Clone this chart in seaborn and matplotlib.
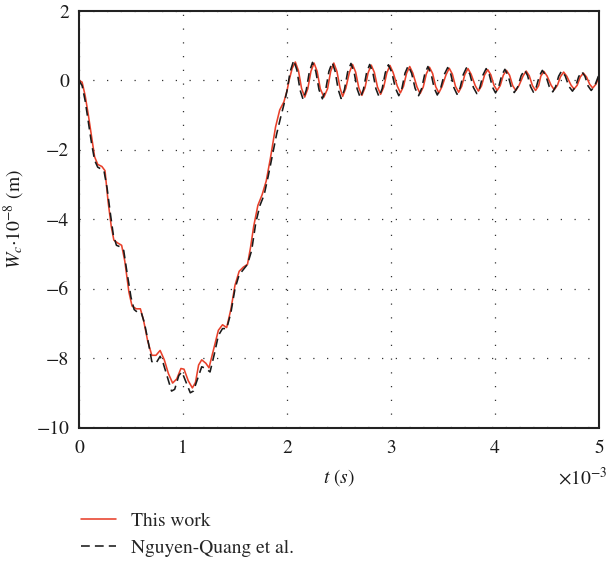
import numpy as np
import pandas as pd
import matplotlib
matplotlib.use("Agg")
import matplotlib.pyplot as plt
import seaborn as sns
from matplotlib.lines import Line2D

# ---------------- data (t in 1e-3 s, W_c in 1e-8 m) ----------------
t_this = [
    0.00, 0.03, 0.06, 0.09, 0.12, 0.15, 0.18, 0.22, 0.25, 0.28, 0.31, 0.335, 0.37, 0.41,
    0.44, 0.48, 0.51, 0.55, 0.59, 0.62, 0.66, 0.70, 0.74, 0.78, 0.82, 0.86, 0.90, 0.94,
    0.98, 1.01, 1.05, 1.09, 1.12, 1.15, 1.18, 1.22, 1.25, 1.29, 1.34, 1.38, 1.42, 1.46,
    1.50, 1.54, 1.58, 1.62, 1.65, 1.68, 1.72, 1.76, 1.80, 1.84, 1.89, 1.93, 1.97, 2.00,
    2.02, 2.05, 2.08,
    2.11, 2.14, 2.17, 2.20, 2.23, 2.26, 2.29, 2.32, 2.355, 2.39, 2.42, 2.45, 2.48, 2.51,
    2.535, 2.565, 2.60, 2.63, 2.66, 2.69, 2.72, 2.75, 2.78, 2.81, 2.84, 2.87, 2.90, 2.93,
    2.96, 2.99, 3.02, 3.06, 3.09, 3.12, 3.15, 3.18, 3.21, 3.25, 3.28, 3.31, 3.34, 3.37,
    3.40, 3.43, 3.46, 3.49, 3.53, 3.56, 3.59, 3.62, 3.65, 3.68, 3.71, 3.74, 3.77, 3.81,
    3.84, 3.87, 3.90, 3.93, 3.96, 3.99, 4.02, 4.05, 4.08, 4.11, 4.14, 4.17, 4.20, 4.23,
    4.27, 4.30, 4.33, 4.36, 4.39, 4.42, 4.44, 4.47, 4.50, 4.54, 4.57, 4.60, 4.63, 4.66,
    4.69, 4.73, 4.76, 4.79, 4.82, 4.85, 4.88, 4.91, 4.94, 4.97, 5.00,
]
w_this = [
    0.00, -0.05, -0.45, -1.00, -1.60, -2.20, -2.42, -2.48, -2.60, -3.50, -4.20, -4.60, -4.68, -4.75,
    -5.20, -6.10, -6.50, -6.58, -6.58, -6.90, -7.50, -7.92, -7.92, -7.78, -8.05, -8.45, -8.72, -8.60,
    -8.30, -8.32, -8.65, -8.86, -8.70, -8.20, -8.05, -8.15, -8.28, -7.80, -7.20, -7.04, -7.12, -6.60,
    -5.90, -5.50, -5.38, -5.30, -4.80, -4.20, -3.60, -3.30, -2.90, -2.25, -1.34, -0.85, -0.62, -0.30,
    0.00, 0.35, 0.53,
    0.28, -0.23, -0.48, -0.24, 0.26, 0.50, 0.26, -0.24, -0.48, -0.24, 0.26, 0.50, 0.26, -0.22,
    -0.46, -0.23, 0.23, 0.46, 0.24, -0.21, -0.43, -0.21, 0.22, 0.44, 0.23, -0.19, -0.40, -0.19,
    0.22, 0.43, 0.23, -0.16, -0.36, -0.17, 0.21, 0.40, 0.21, -0.19, -0.38, -0.19, 0.19, 0.38,
    0.20, -0.18, -0.36, -0.18, 0.17, 0.35, 0.18, -0.17, -0.34, -0.17, 0.17, 0.34, 0.18, -0.15,
    -0.31, -0.16, 0.16, 0.31, 0.16, -0.14, -0.29, -0.15, 0.15, 0.29, 0.15, -0.15, -0.29, -0.15,
    0.13, 0.27, 0.13, -0.15, -0.29, -0.15, 0.12, 0.26, 0.13, -0.14, -0.27, -0.14, 0.11, 0.24,
    0.12, -0.13, -0.25, -0.14, 0.10, 0.21, 0.10, -0.11, -0.22, -0.11, 0.10,
]

t_nq = [
    0.00, 0.03, 0.06, 0.09, 0.12, 0.15, 0.18, 0.21, 0.24, 0.27, 0.30, 0.33, 0.36, 0.40,
    0.43, 0.46, 0.50, 0.53, 0.57, 0.60, 0.63, 0.67, 0.70, 0.74, 0.78, 0.81, 0.85, 0.89,
    0.92, 0.96, 0.99, 1.03, 1.07, 1.10, 1.14, 1.18, 1.22, 1.26, 1.30, 1.34, 1.38, 1.42,
    1.46, 1.50, 1.54, 1.58, 1.62, 1.66, 1.70, 1.74, 1.78, 1.82, 1.86, 1.90, 1.94, 1.97,
    2.00, 2.03, 2.065,
    2.095, 2.125, 2.155, 2.185, 2.215, 2.245, 2.277, 2.308, 2.34, 2.372, 2.403, 2.435, 2.463, 2.492,
    2.52, 2.552, 2.583, 2.615, 2.645, 2.675, 2.705, 2.735, 2.765, 2.795, 2.825, 2.855, 2.885, 2.915,
    2.945, 2.975, 3.008, 3.042, 3.075, 3.105, 3.135, 3.165, 3.198, 3.232, 3.265, 3.295, 3.325, 3.355,
    3.385, 3.415, 3.445, 3.478, 3.512, 3.545, 3.575, 3.605, 3.635, 3.665, 3.695, 3.725, 3.758, 3.792,
    3.825, 3.855, 3.885, 3.915, 3.945, 3.975, 4.005, 4.035, 4.065, 4.095, 4.125, 4.155, 4.185, 4.218,
    4.252, 4.285, 4.313, 4.342, 4.37, 4.398, 4.427, 4.455, 4.488, 4.522, 4.555, 4.583, 4.612, 4.64,
    4.675, 4.71, 4.745, 4.775, 4.805, 4.835, 4.865, 4.895, 4.925, 4.96, 5.00,
]
w_nq = [
    0.00, -0.15, -0.60, -1.20, -1.80, -2.30, -2.50, -2.55, -2.60, -3.10, -3.80, -4.45, -4.75, -4.80,
    -4.90, -5.50, -6.25, -6.60, -6.70, -6.70, -7.00, -7.60, -8.10, -8.15, -7.95, -8.15, -8.55, -8.95,
    -8.90, -8.50, -8.40, -8.70, -9.00, -8.95, -8.60, -8.25, -8.30, -8.40, -7.90, -7.35, -7.15, -7.15,
    -6.70, -6.00, -5.60, -5.45, -5.30, -4.90, -4.10, -3.60, -3.30, -2.75, -2.15, -1.55, -1.05, -0.70,
    -0.30, 0.25, 0.58,
    0.30, -0.27, -0.55, -0.28, 0.25, 0.52, 0.26, -0.27, -0.53, -0.27, 0.26, 0.52, 0.26, -0.26,
    -0.52, -0.27, 0.24, 0.49, 0.24, -0.25, -0.50, -0.26, 0.22, 0.46, 0.23, -0.24, -0.47, -0.24,
    0.22, 0.45, 0.23, -0.22, -0.44, -0.23, 0.21, 0.42, 0.21, -0.23, -0.44, -0.23, 0.19, 0.40,
    0.20, -0.22, -0.42, -0.22, 0.17, 0.37, 0.18, -0.21, -0.40, -0.21, 0.17, 0.36, 0.18, -0.20,
    -0.38, -0.20, 0.16, 0.34, 0.17, -0.19, -0.36, -0.19, 0.15, 0.32, 0.15, -0.18, -0.35, -0.19,
    0.14, 0.30, 0.14, -0.18, -0.34, -0.18, 0.13, 0.29, 0.14, -0.18, -0.33, -0.18, 0.12, 0.27,
    0.13, -0.17, -0.31, -0.17, 0.11, 0.25, 0.12, -0.16, -0.29, -0.15, 0.17,
]

labels = ["This work", "Nguyen-Quang et al."]
x_ticks = [0, 1, 2, 3, 4, 5]
y_ticks = [-10, -8, -6, -4, -2, 0, 2]

df = pd.concat([
    pd.DataFrame({"t": t_this, "w": w_this, "series": labels[0]}),
    pd.DataFrame({"t": t_nq, "w": w_nq, "series": labels[1]}),
], ignore_index=True)

# ---------------- style ----------------
sns.set_theme(style="white")
plt.rcParams["font.family"] = ["STIXGeneral", "DejaVu Serif"]
plt.rcParams["mathtext.fontset"] = "stix"
plt.rcParams["axes.unicode_minus"] = True

fig = plt.figure(figsize=(6.07, 5.76), dpi=100)
ax = fig.add_axes([79 / 607, 1 - 427.5 / 576, (599 - 79) / 607, (427.5 - 11) / 576])

palette = {labels[0]: "#E8402A", labels[1]: "#1a1a1a"}
dash_nq = (5.5, 3.2)
dashes = {labels[0]: "", labels[1]: dash_nq}
sns.lineplot(data=df, x="t", y="w", hue="series", style="series",
             hue_order=labels, style_order=labels, palette=palette, dashes=dashes,
             sort=False, estimator=None, linewidth=1.15, ax=ax, legend=False)

ax.set_xlim(0, 5)
ax.set_ylim(-10, 2)
ax.set_xticks(x_ticks)
ax.set_yticks(y_ticks)
ax.set_xticklabels([str(v) for v in x_ticks])
ax.set_yticklabels([f"{v}".replace("-", "\u2212") for v in y_ticks])
ax.tick_params(axis="both", length=0, labelsize=14, colors="#1a1a1a")
ax.tick_params(axis="x", pad=9)
ax.tick_params(axis="y", pad=7)
ax.grid(True, color="#333333", linestyle=(0, (1, 10)), linewidth=0.9)
for s in ax.spines.values():
    s.set_visible(True)
    s.set_color("#222222")
    s.set_linewidth(1.5)

ax.set_xlabel(r"$t\ (s)$", fontsize=14, labelpad=7, color="#1a1a1a")
ax.set_ylabel(r"$W_c{\cdot}10^{-8}$ (m)", fontsize=14, labelpad=7, color="#1a1a1a")
fig.text(607 / 607, 1 - 485 / 576, r"$\times10^{-3}$", ha="right", va="baseline",
         fontsize=14, color="#1a1a1a")

handles = [Line2D([], [], color=palette[labels[0]], lw=1.15),
           Line2D([], [], color=palette[labels[1]], lw=1.15, dashes=dash_nq)]
fig.legend(handles, labels, loc="upper left", bbox_to_anchor=(81 / 607, 1 - 512 / 576),
           frameon=False, fontsize=14, handlelength=1.8, handletextpad=0.75,
           labelspacing=0.5, borderpad=0, borderaxespad=0)

fig.savefig("out.png", dpi=100)
